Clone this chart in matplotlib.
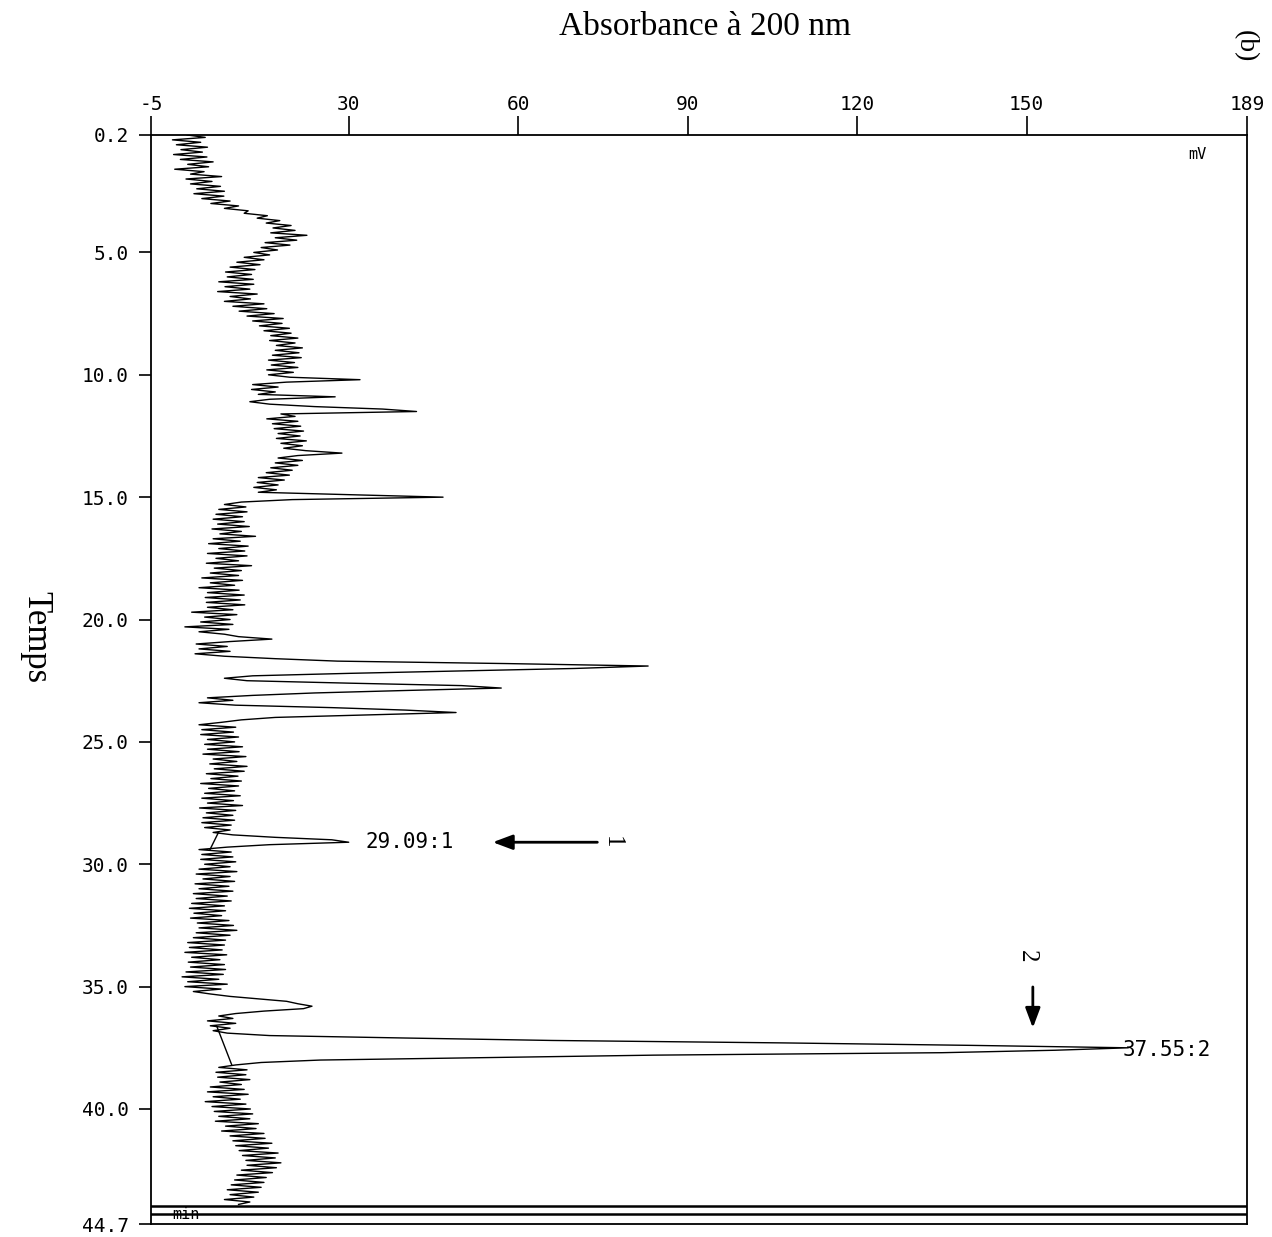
import numpy as np
import matplotlib
matplotlib.use("Agg")
import matplotlib.pyplot as plt

# recorder samples, one every 0.1 min from 0.2 to 43.9 min
time_min = np.round(np.arange(0.2, 43.95, 0.1), 1)

# absorbance at 200 nm (mV), one row per minute
signal_mv = [
    1.4, 4.6, -1.2, 3.8, -0.5, 5.0, 0.3, 4.1, -1.0, 4.9,        # 0.2
    0.2, 6.0, 1.5, 5.2, -0.8, 4.4, 2.0, 7.5, 1.2, 5.8,          # 1.2
    2.0, 7.3, 3.1, 8.0, 2.6, 7.9, 4.0, 9.0, 5.6, 10.5,          # 2.2
    8.0, 12.2, 11.5, 15.6, 13.8, 17.8, 15.4, 19.8, 16.6, 20.5,  # 3.2
    16.2, 22.6, 17.0, 20.8, 15.2, 19.6, 14.5, 17.4, 13.2, 16.0, # 4.2
    11.5, 15.0, 10.2, 14.3, 9.0, 13.4, 8.2, 12.8, 8.5, 13.1,    # 5.2
    7.0, 13.2, 8.1, 12.5, 6.8, 13.8, 9.0, 12.6, 8.0, 15.0,      # 6.2
    9.5, 15.5, 10.6, 16.8, 12.0, 18.4, 13.0, 18.2, 14.2, 19.5,  # 7.2
    15.0, 19.8, 16.2, 21.0, 16.0, 20.5, 17.2, 21.8, 17.0, 21.2, # 8.2
    16.5, 21.6, 15.8, 20.4, 16.3, 21.0, 15.5, 20.2, 15.8, 19.6, # 9.2
    32.0, 19.0, 13.0, 17.5, 12.8, 17.0, 14.0, 27.6, 16.0, 12.5, # 10.2
    16.0, 24.0, 36.0, 42.0, 18.0, 20.5, 15.5, 21.0, 16.5, 21.5, # 11.2
    16.8, 22.0, 17.5, 21.4, 17.2, 22.5, 18.0, 21.8, 18.5, 22.4, # 12.2
    28.8, 21.0, 17.5, 21.8, 17.0, 21.0, 16.2, 20.0, 15.4, 19.5, # 13.2
    14.0, 18.6, 13.8, 17.5, 13.2, 17.2, 14.0, 30.0, 46.7, 20.0, # 14.2
    11.0, 8.0, 11.8, 7.0, 12.0, 6.5, 11.2, 6.0, 11.5, 6.8,      # 15.2
    12.4, 5.8, 11.0, 7.2, 13.5, 6.0, 10.8, 5.2, 12.2, 7.0,      # 16.2
    11.6, 5.0, 12.0, 6.5, 10.5, 4.8, 12.8, 6.2, 11.0, 5.5,      # 17.2
    10.5, 4.0, 11.2, 5.5, 9.8, 3.5, 10.6, 5.0, 11.5, 4.6,       # 18.2
    10.8, 4.8, 11.6, 5.0, 9.5, 2.2, 10.2, 4.5, 9.0, 3.8,        # 19.2
    9.5, 1.0, 8.8, 3.5, 8.0, 10.5, 16.4, 9.0, 3.0, 8.5,         # 20.2
    3.5, 9.0, 2.8, 8.0, 17.0, 28.0, 58.0, 83.0, 70.0, 50.0,     # 21.2
    30.0, 13.0, 8.0, 12.0, 30.0, 50.0, 57.0, 40.0, 24.0, 13.0,  # 22.2
    5.0, 9.5, 3.5, 10.0, 27.0, 40.0, 49.0, 33.0, 17.0, 11.0,    # 23.2
    7.5, 3.5, 10.0, 4.0, 9.6, 3.8, 10.5, 5.0, 9.8, 4.5,         # 24.2
    11.2, 5.0, 10.6, 4.2, 11.8, 6.0, 10.2, 5.4, 12.0, 6.2,      # 25.2
    11.5, 4.8, 10.4, 5.6, 11.0, 3.8, 10.5, 5.2, 9.8, 4.5,       # 26.2
    10.8, 4.0, 9.6, 5.0, 11.2, 3.6, 10.0, 4.8, 9.5, 4.2,        # 27.2
    9.8, 4.0, 9.2, 4.5, 9.0, 6.0, 9.5, 17.0, 27.0, 30.0,        # 28.2
    16.0, 8.5, 3.5, 9.2, 4.0, 9.5, 3.8, 10.0, 4.5, 9.0,         # 29.2
    3.5, 10.2, 3.0, 9.0, 4.2, 9.8, 2.8, 8.8, 3.5, 9.5,          # 30.2
    2.5, 8.5, 3.0, 9.2, 2.2, 8.0, 1.8, 8.2, 2.6, 7.5,           # 31.2
    2.0, 8.8, 3.2, 9.6, 3.5, 10.2, 3.0, 9.0, 2.5, 8.2,          # 32.2
    1.5, 8.0, 1.8, 7.6, 1.0, 8.4, 2.2, 7.2, 1.6, 8.0,           # 33.2
    2.0, 8.2, 1.2, 7.8, 0.5, 7.0, 1.5, 8.5, 1.0, 7.4,           # 34.2
    2.5, 5.5, 9.0, 14.0, 19.0, 21.0, 23.5, 22.0, 15.0, 10.0,    # 35.2
    7.0, 9.5, 5.0, 10.0, 5.5, 9.0, 6.0, 8.5, 16.0, 40.0,        # 36.2
    66.0, 107.0, 140.0, 168.0, 155.0, 135.0, 84.0, 55.0, 25.0, 14.5,  # 37.2
    10.0, 7.0, 12.0, 6.5, 11.8, 6.8, 12.5, 7.2, 11.0, 5.5,      # 38.2
    11.5, 5.0, 12.2, 6.0, 10.8, 4.6, 11.8, 5.8, 12.6, 6.2,      # 39.2
    13.0, 7.0, 12.5, 6.4, 14.0, 8.2, 13.6, 7.5, 15.0, 9.0,      # 40.2
    15.2, 9.5, 16.4, 10.0, 15.8, 10.6, 17.5, 11.2, 17.0, 11.8,  # 41.2
    18.0, 12.0, 17.2, 11.0, 16.5, 10.2, 15.4, 9.8, 15.0, 9.2,   # 42.2
    14.5, 8.5, 14.0, 9.0, 13.2, 8.0, 12.5, 10.5,                # 43.2
]

# integration baselines drawn under the two labelled peaks
base_t = [[28.72, 29.42], [36.65, 38.2]]
base_mv = [[6.9, 5.4], [6.7, 9.3]]

peak_labels = ["29.09:1", "37.55:2"]
peak_label_t = [29.09, 37.6]
peak_label_mv = [32.9, 167.0]

x_ticks = [-5, 30, 60, 90, 120, 150, 189]
y_ticks = [0.2, 5.0, 10.0, 15.0, 20.0, 25.0, 30.0, 35.0, 40.0, 44.7]
y_ticklabels = ["0.2", "5.0", "10.0", "15.0", "20.0", "25.0",
                "30.0", "35.0", "40.0", "44.7"]

MONO = "DejaVu Sans Mono"
SERIF = "Liberation Serif"

fig = plt.figure(figsize=(12.72, 12.37), dpi=100)
ax = fig.add_axes([0.1187, 0.0105, 0.8616, 0.8804])

ax.plot(signal_mv, time_min, color="black", lw=1.0)
for bt, bv in zip(base_t, base_mv):
    ax.plot(bv, bt, color="black", lw=1.0)

# end-of-run marker lines
ax.axhline(43.95, color="black", lw=1.8)
ax.axhline(44.3, color="black", lw=1.8)

ax.set_xlim(-5, 189)
ax.set_ylim(44.7, 0.2)

ax.xaxis.tick_top()
ax.set_xticks(x_ticks)
ax.set_xticklabels([str(v) for v in x_ticks], family=MONO, fontsize=14)
ax.set_yticks(y_ticks)
ax.set_yticklabels(y_ticklabels, family=MONO, fontsize=14)
ax.tick_params(axis="x", direction="out", length=14, width=1.2, pad=1)
ax.tick_params(axis="y", direction="out", length=9, width=1.2, pad=7)
for s in ax.spines.values():
    s.set_linewidth(1.3)

for lab, t, v in zip(peak_labels, peak_label_t, peak_label_mv):
    ax.text(v, t, lab, family=MONO, fontsize=15, ha="left", va="center")

ax.text(180.3, 1.0, "mV", family=MONO, fontsize=11, ha="center", va="center")
ax.text(1.2, 44.33, "min", family=MONO, fontsize=11, ha="center", va="center")

# hand-drawn arrows and peak numbers
ax.annotate("", xy=(55.0, 29.1), xytext=(74.5, 29.1),
            arrowprops=dict(arrowstyle="-|>,head_length=1.2,head_width=0.45",
                            color="black", lw=2))
ax.text(76.5, 29.1, "1", family=SERIF, fontsize=18, rotation=270,
        ha="center", va="center")
ax.annotate("", xy=(151.1, 36.8), xytext=(151.1, 34.9),
            arrowprops=dict(arrowstyle="-|>,head_length=1.2,head_width=0.45",
                            color="black", lw=2))
ax.text(150.0, 33.75, "2", family=SERIF, fontsize=18, rotation=270,
        ha="center", va="center")

fig.text(0.554, 0.978, "Absorbance à 200 nm", family=SERIF, fontsize=24,
         ha="center", va="center")
fig.text(0.028, 0.485, "Temps", family=SERIF, fontsize=25, rotation=270,
         ha="center", va="center")
fig.text(0.979, 0.963, "(b)", family=SERIF, fontsize=20, rotation=270,
         ha="center", va="center")

fig.savefig("out.png", dpi=100)
